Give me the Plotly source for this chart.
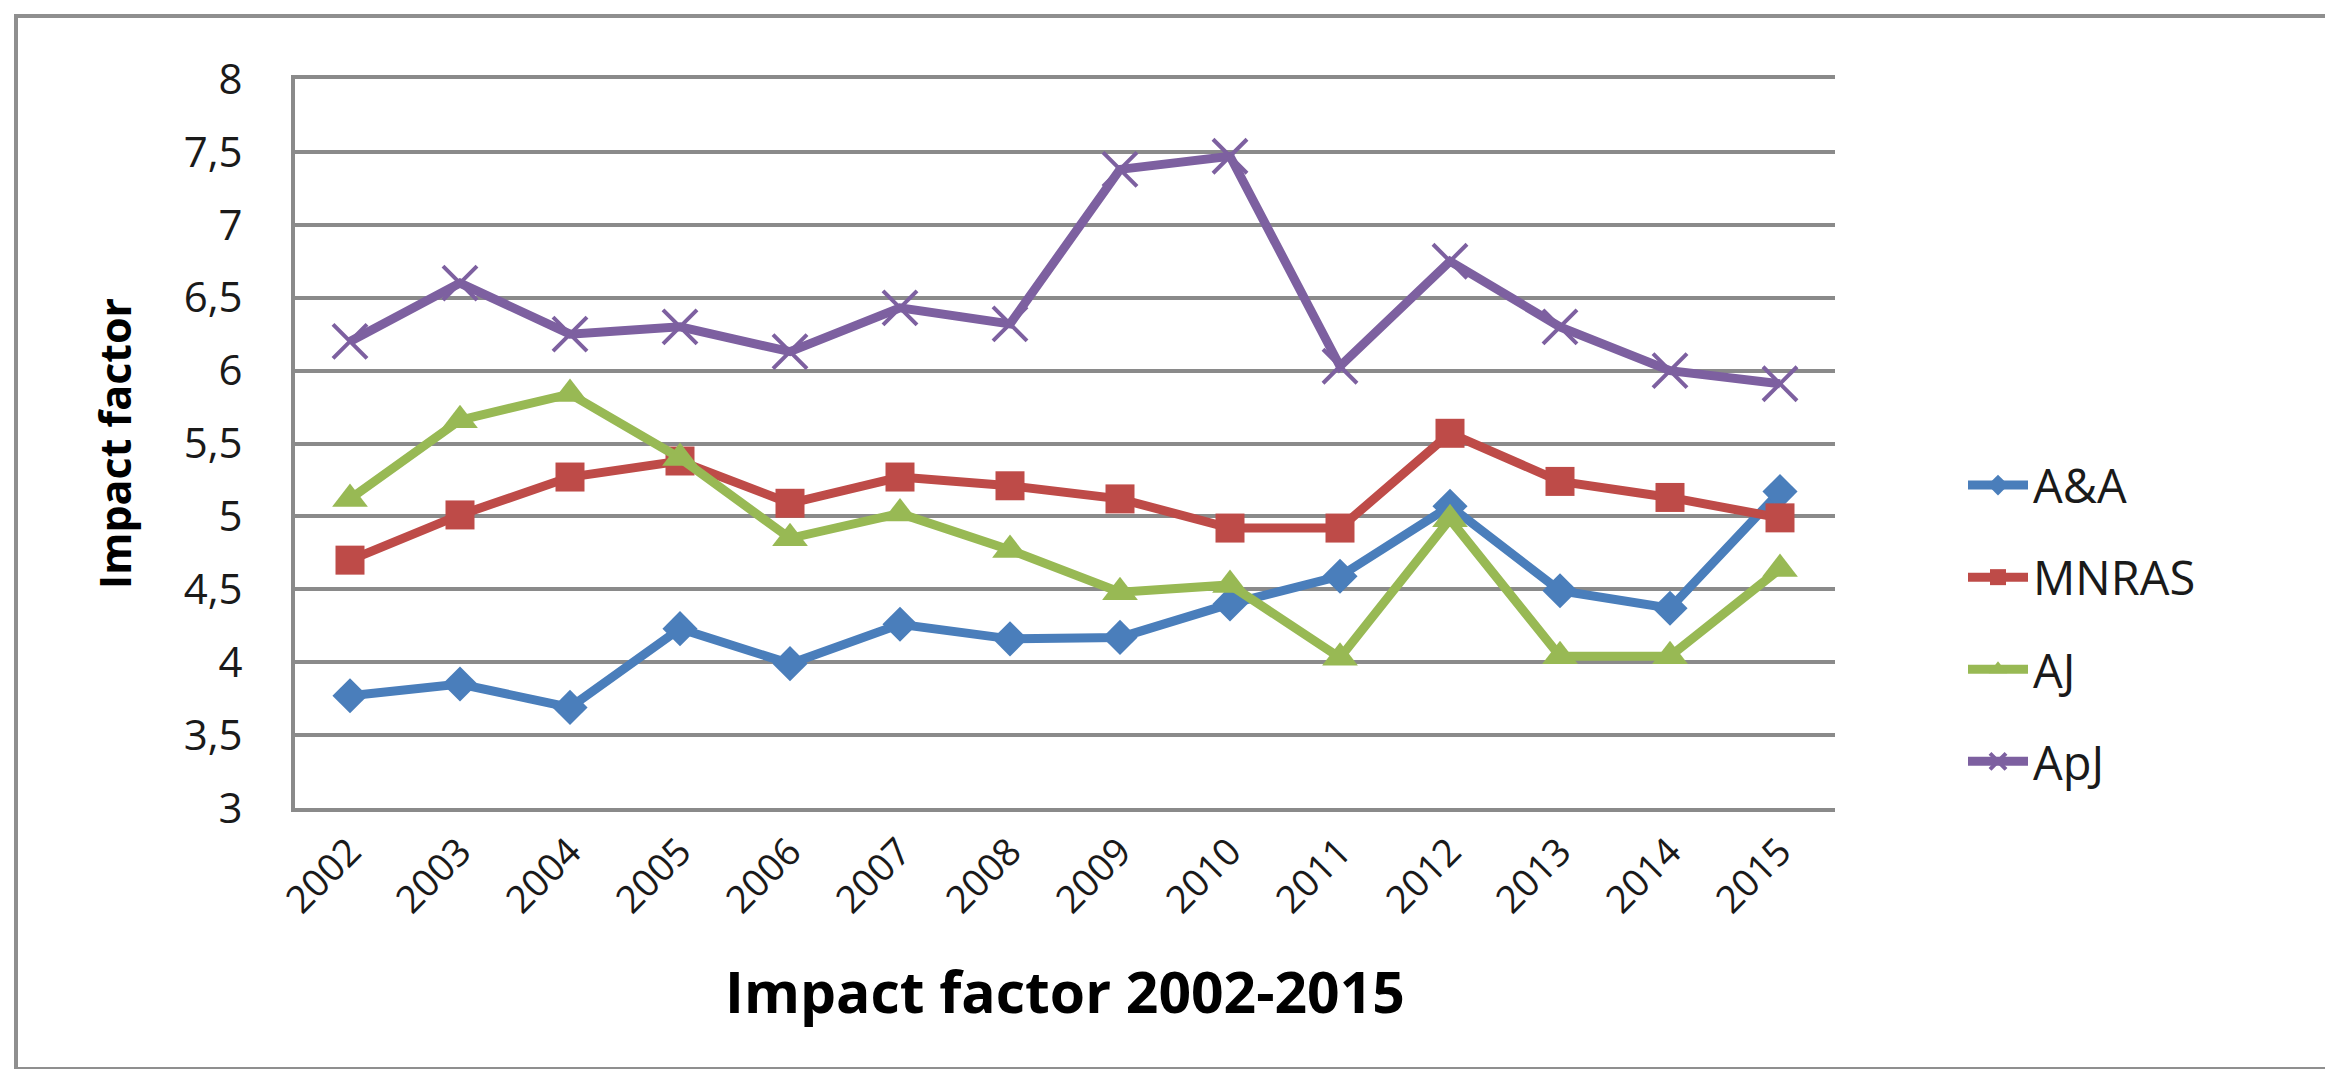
import plotly.graph_objects as go

years = ["2002", "2003", "2004", "2005", "2006", "2007", "2008",
         "2009", "2010", "2011", "2012", "2013", "2014", "2015"]

aa = [3.77, 3.85, 3.69, 4.23, 3.99, 4.26, 4.16, 4.17, 4.40, 4.59, 5.07, 4.49, 4.37, 5.17]
mnras = [4.70, 5.01, 5.27, 5.38, 5.09, 5.27, 5.21, 5.12, 4.92, 4.92, 5.57, 5.24, 5.13, 4.99]
aj = [5.12, 5.66, 5.84, 5.40, 4.85, 5.02, 4.77, 4.48, 4.53, 4.03, 4.98, 4.04, 4.04, 4.64]
apj = [6.20, 6.60, 6.25, 6.30, 6.13, 6.43, 6.32, 7.38, 7.47, 6.03, 6.75, 6.30, 6.00, 5.91]

ytick_vals = [3, 3.5, 4, 4.5, 5, 5.5, 6, 6.5, 7, 7.5, 8]
ytick_text = ["3", "3,5", "4", "4,5", "5", "5,5", "6", "6,5", "7", "7,5", "8"]

series = [
    ("A&A", aa, "#4A7EBB", dict(symbol="diamond", size=27)),
    ("MNRAS", mnras, "#BE4B48", dict(symbol="square", size=29)),
    ("AJ", aj, "#98B954", dict(symbol="triangle-up", size=31)),
    ("ApJ", apj, "#7D60A0", dict(symbol="x-thin", size=34)),
]

FONT = "Open Sans, Noto Sans, sans-serif"
GRID = "#8a8a8a"

fig = go.Figure()
for name, vals, color, mk in series:
    marker = dict(color=color, **mk)
    if mk["symbol"] == "x-thin":
        marker["line"] = dict(color=color, width=4)
    fig.add_trace(go.Scatter(
        x=years, y=vals, name=name, mode="lines+markers",
        line=dict(color=color, width=9),
        marker=marker, legendgroup=name,
    ))

W, H = 2333, 1069
L, R, T, B = 287, 2333 - 1827, 71, 1069 - 800
pw, ph = W - L - R, H - T - B

def px_x(p):
    return (p - L) / pw

def px_y(p):
    return (H - B - p) / ph

fig.update_layout(
    width=W, height=H,
    margin=dict(l=L, r=R, t=T, b=B, autoexpand=False),
    paper_bgcolor="white", plot_bgcolor="white",
    font=dict(family=FONT, color="#1a1a1a"),
    showlegend=True,
    legend=dict(
        x=px_x(1955), y=px_y(440), xanchor="left", yanchor="top",
        font=dict(size=47, family=FONT, color="#1a1a1a"),
        traceorder="grouped", tracegroupgap=28,
        itemwidth=60, bgcolor="rgba(0,0,0,0)",
    ),
    xaxis=dict(
        type="category", range=[-0.5, len(years) - 0.5],
        showgrid=False, zeroline=False,
        showline=True, mirror=True, linecolor=GRID, linewidth=4,
        tickangle=-45, tickfont=dict(size=38, family=FONT, color="#1a1a1a"),
        ticks="", ticklabelstandoff=2,
        title=dict(text="<b>Impact factor 2002-2015</b>",
                   font=dict(size=57, family=FONT, color="#000000"),
                   standoff=52),
        automargin=False,
    ),
    yaxis=dict(
        range=[3, 8], tickvals=ytick_vals, ticktext=ytick_text,
        showgrid=True, gridcolor=GRID, gridwidth=4,
        zeroline=False, showline=True, linecolor=GRID, linewidth=4,
        ticks="", ticklabelstandoff=40,
        tickfont=dict(size=42, family=FONT, color="#1a1a1a"),
        title=dict(text="<b>Impact factor</b>",
                   font=dict(size=43, family=FONT, color="#000000"),
                   standoff=40),
        automargin=False,
    ),
    shapes=[dict(
        type="rect", xref="paper", yref="paper",
        x0=px_x(8), x1=px_x(2325), y0=px_y(1061), y1=px_y(8),
        line=dict(color="#8f8f8f", width=4), fillcolor="rgba(0,0,0,0)",
        layer="below",
    )],
)

fig.write_html("out.html")
